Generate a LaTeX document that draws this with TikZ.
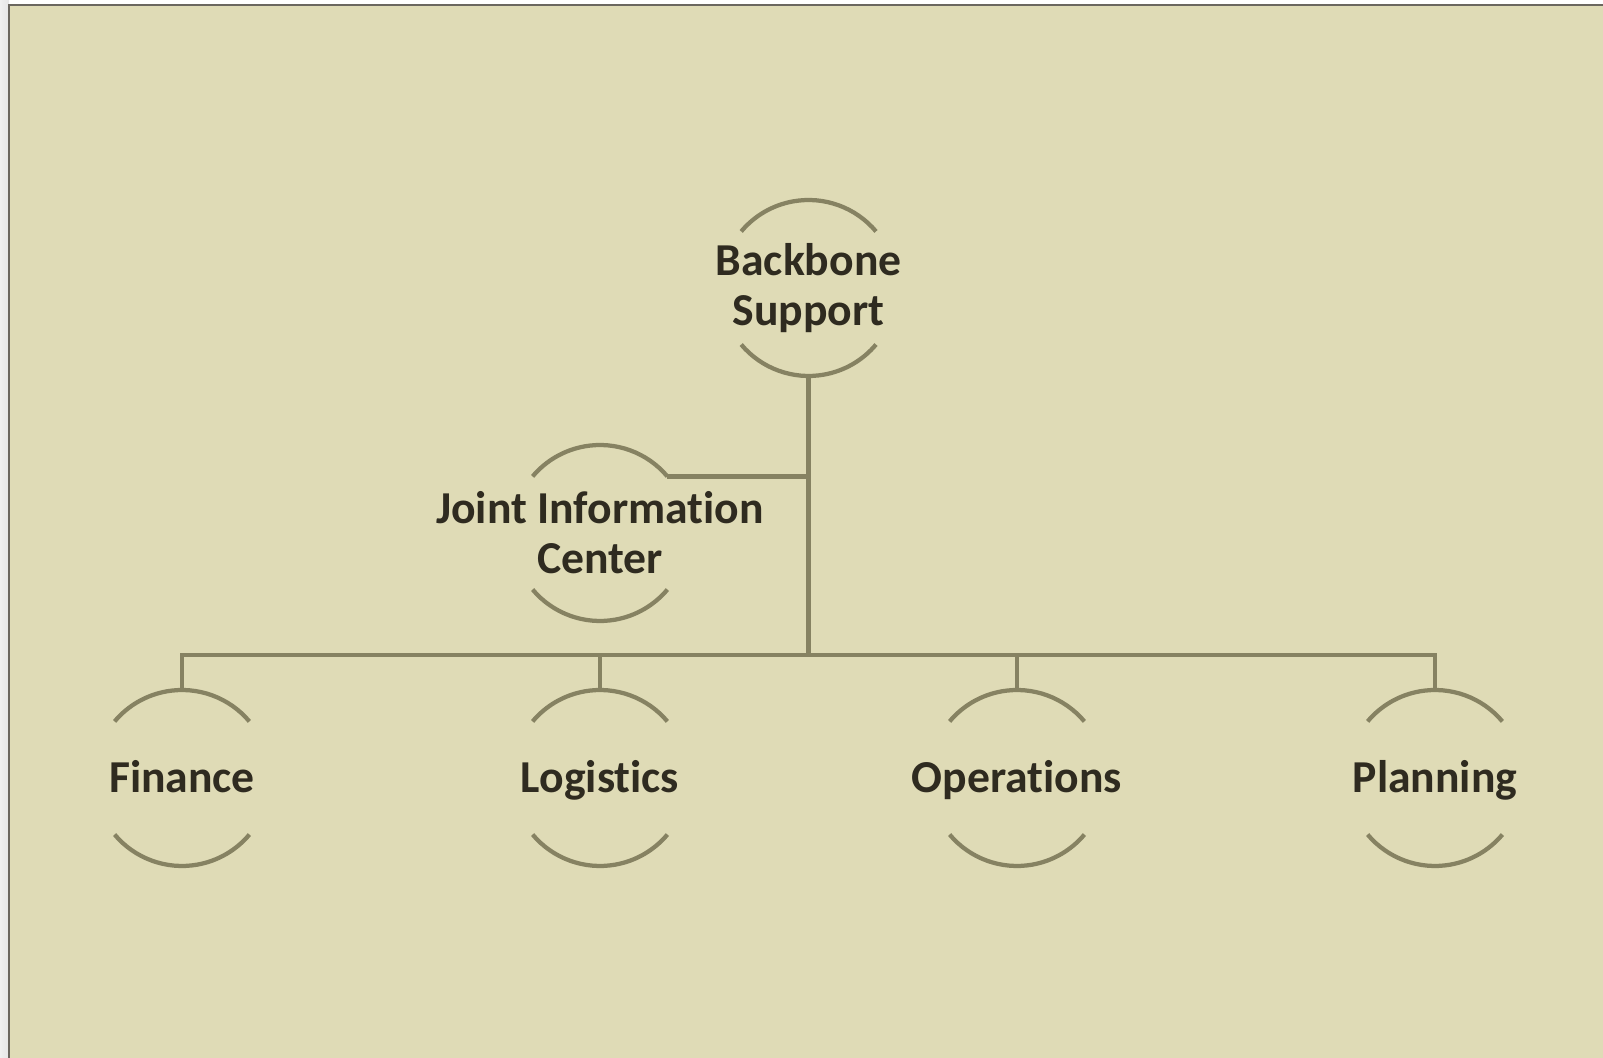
\documentclass[tikz,border=0pt]{standalone}
\usepackage{fontspec}
\setmainfont{Carlito}[Ligatures=NoCommon]
\usetikzlibrary{positioning}
\definecolor{paper}{RGB}{223,219,182}
\definecolor{wire}{RGB}{134,130,98}
\definecolor{ink}{RGB}{47,43,32}
\definecolor{edge}{RGB}{107,103,95}
\begin{document}
\begin{tikzpicture}[x=0.02cm,y=0.02cm,
  unit/.style={circle,minimum size=3.52cm,inner sep=0pt,outer sep=0pt},
  lbl/.style={font=\bfseries\fontsize{26}{28.5}\selectfont,text=ink,align=center,inner sep=0pt},
  word/.style={lbl,text height=16.4pt,text depth=0pt},
  ring/.style={wire,line width=0.085cm},
  bar/.style={wire,line width=0.09cm}]
\useasboundingbox (0,0) rectangle (1603,1058);
\fill[left color=white!94!black,right color=white!90!black] (0,0) rectangle (9,1058);
\fill[paper] (9,0) rectangle (1603,1053);
\draw[edge,line width=0.05cm] (9,0) -- (9,1053) -- (1603,1053);
% units
\node[unit,label={[lbl]center:Backbone\\Support}] (bb) at (808.6,770) {};
\node[unit,label={[lbl]center:Joint Information\\Center}] (jic) at (600,525) {};
\node[unit,label={[word]center:Finance}] (fin) at (182,280) {};
\node[unit,label={[word]center:Logistics}] (log) at (600,280) {};
\node[unit,label={[word]center:Operations}] (ops) at (1017,280) {};
\node[unit,label={[word]center:Planning}] (plan) at (1435,280) {};
\coordinate (bus) at (808.6,403);
% open rings
\foreach \n in {bb,jic,fin,log,ops,plan}{
  \draw[ring] (\n.40) arc (40:140:1.76cm);
  \draw[ring] (\n.220) arc (220:320:1.76cm);
}
% lines
\draw[bar] (bb.south) -- (bus);
\draw[bar] (jic.40) -- (jic.40 -| bb.south);
\draw[bar] (fin.north) -- (fin.north |- bus) -- (plan.north |- bus) -- (plan.north);
\draw[bar] (log.north) -- (log.north |- bus);
\draw[bar] (ops.north) -- (ops.north |- bus);
\end{tikzpicture}
\end{document}
